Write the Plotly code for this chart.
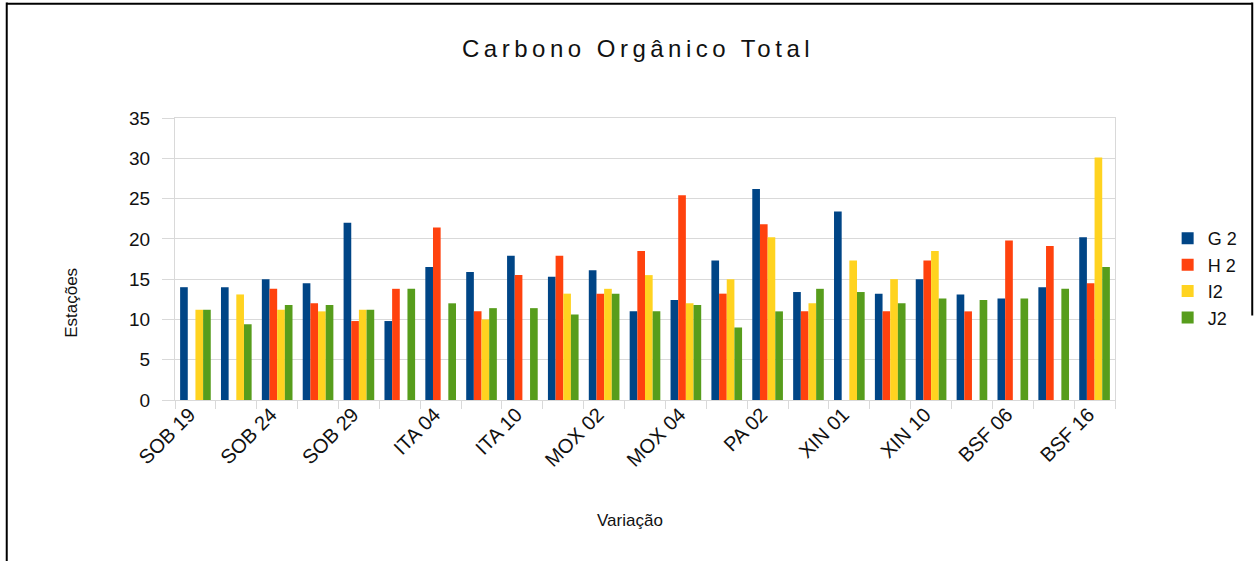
import plotly.graph_objects as go

# estações (só uma sim, uma não aparece no eixo do original)
estacoes = ["SOB 19", "SOB 21", "SOB 24", "SOB 27", "SOB 29", "ITA 01", "ITA 04", "ITA 07",
            "ITA 10", "MOX 01", "MOX 02", "MOX 03", "MOX 04", "PA 01", "PA 02", "PA 03",
            "XIN 01", "XIN 05", "XIN 10", "BSF 01", "BSF 06", "BSF 11", "BSF 16"]
rotulos = [e if i % 2 == 0 else "" for i, e in enumerate(estacoes)]

g2 = [14.0, 14.0, 15.0, 14.5, 22.0, 9.8, 16.5, 15.9, 17.9, 15.3, 16.1, 11.0,
      12.4, 17.3, 26.2, 13.4, 23.4, 13.2, 15.0, 13.1, 12.6, 14.0, 20.2]
h2 = [None, None, 13.8, 12.0, 9.8, 13.8, 21.4, 11.0, 15.5, 17.9, 13.2, 18.5,
      25.4, 13.2, 21.8, 11.0, None, 11.0, 17.3, 11.0, 19.8, 19.1, 14.5]
i2 = [11.2, 13.1, 11.2, 11.0, 11.2, None, None, 10.0, None, 13.2, 13.8, 15.5,
      12.0, 15.0, 20.2, 12.0, 17.3, 15.0, 18.5, None, None, None, 30.1]
j2 = [11.2, 9.4, 11.8, 11.8, 11.2, 13.8, 12.0, 11.4, 11.4, 10.6, 13.2, 11.0,
      11.8, 9.0, 11.0, 13.8, 13.4, 12.0, 12.6, 12.4, 12.6, 13.8, 16.5]

series = [("G 2", g2, "#004586"), ("H 2", h2, "#ff420e"),
          ("I2", i2, "#ffd320"), ("J2", j2, "#579d1c")]

fonte = "Liberation Sans, Arial, sans-serif"
cinza = "#d9d9d9"

fig = go.Figure()
for nome, vals, cor in series:
    fig.add_trace(go.Bar(x=estacoes, y=vals, name=nome, marker=dict(color=cor, line=dict(width=0))))

fig.update_layout(
    width=1255, height=561,
    margin=dict(l=175, r=140, t=118, b=161),
    paper_bgcolor="white", plot_bgcolor="white",
    barmode="group", bargap=0.25, bargroupgap=0,
    font=dict(family=fonte, color="#111", size=17),
    title=dict(text="Carbono Orgânico Total", x=0.4926, xref="paper", y=0.914,
               yanchor="middle", xanchor="center", font=dict(size=24, color="#111")),
    legend=dict(x=1.056, y=0.638, xanchor="left", yanchor="top", font=dict(size=18),
                itemwidth=30, tracegroupgap=0, bgcolor="rgba(0,0,0,0)"),
    showlegend=True,
)

fig.update_xaxes(
    type="category", tickmode="array", tickvals=estacoes, ticktext=rotulos,
    tickangle=-45, tickson="boundaries", ticks="outside", ticklen=8, tickcolor=cinza,
    showgrid=False, showline=True, linecolor=cinza, mirror=True,
    ticklabelshift=-6, ticklabelstandoff=-6,
    tickfont=dict(size=20, color="#111"),
)
fig.update_yaxes(
    range=[0, 35], dtick=5, showgrid=True, gridcolor=cinza, ticks="outside", ticklen=12,
    tickcolor=cinza, showline=True, linecolor=cinza, mirror=True, zeroline=False,
    ticklabelstandoff=8, tickfont=dict(size=19, color="#111"),
)

fig.add_annotation(text="Estações", xref="paper", yref="paper", x=-0.122, y=0.344,
                   textangle=-90, showarrow=False, font=dict(size=17, color="#111"))
fig.add_annotation(text="Variação", xref="paper", yref="paper", x=0.484, y=-0.468,
                   showarrow=False, font=dict(size=17, color="#111"))

# moldura preta da imagem original
fig.add_shape(type="line", xref="paper", yref="paper", x0=-0.179, x1=-0.179, y0=1.41, y1=-0.6,
              line=dict(color="black", width=2))
fig.add_shape(type="line", xref="paper", yref="paper", x0=-0.179, x1=1.146, y0=1.405, y1=1.405,
              line=dict(color="black", width=2))
fig.add_shape(type="line", xref="paper", yref="paper", x0=1.146, x1=1.146, y0=1.41, y1=0.3,
              line=dict(color="black", width=2))

# sem margem na página; título espaçado como no original
js = ("document.body.style.margin='0';"
      "document.querySelectorAll('.gtitle').forEach(function(t){t.style.letterSpacing='4.5px';});")
fig.write_html("out.html", post_script=js, config={"displayModeBar": False})
